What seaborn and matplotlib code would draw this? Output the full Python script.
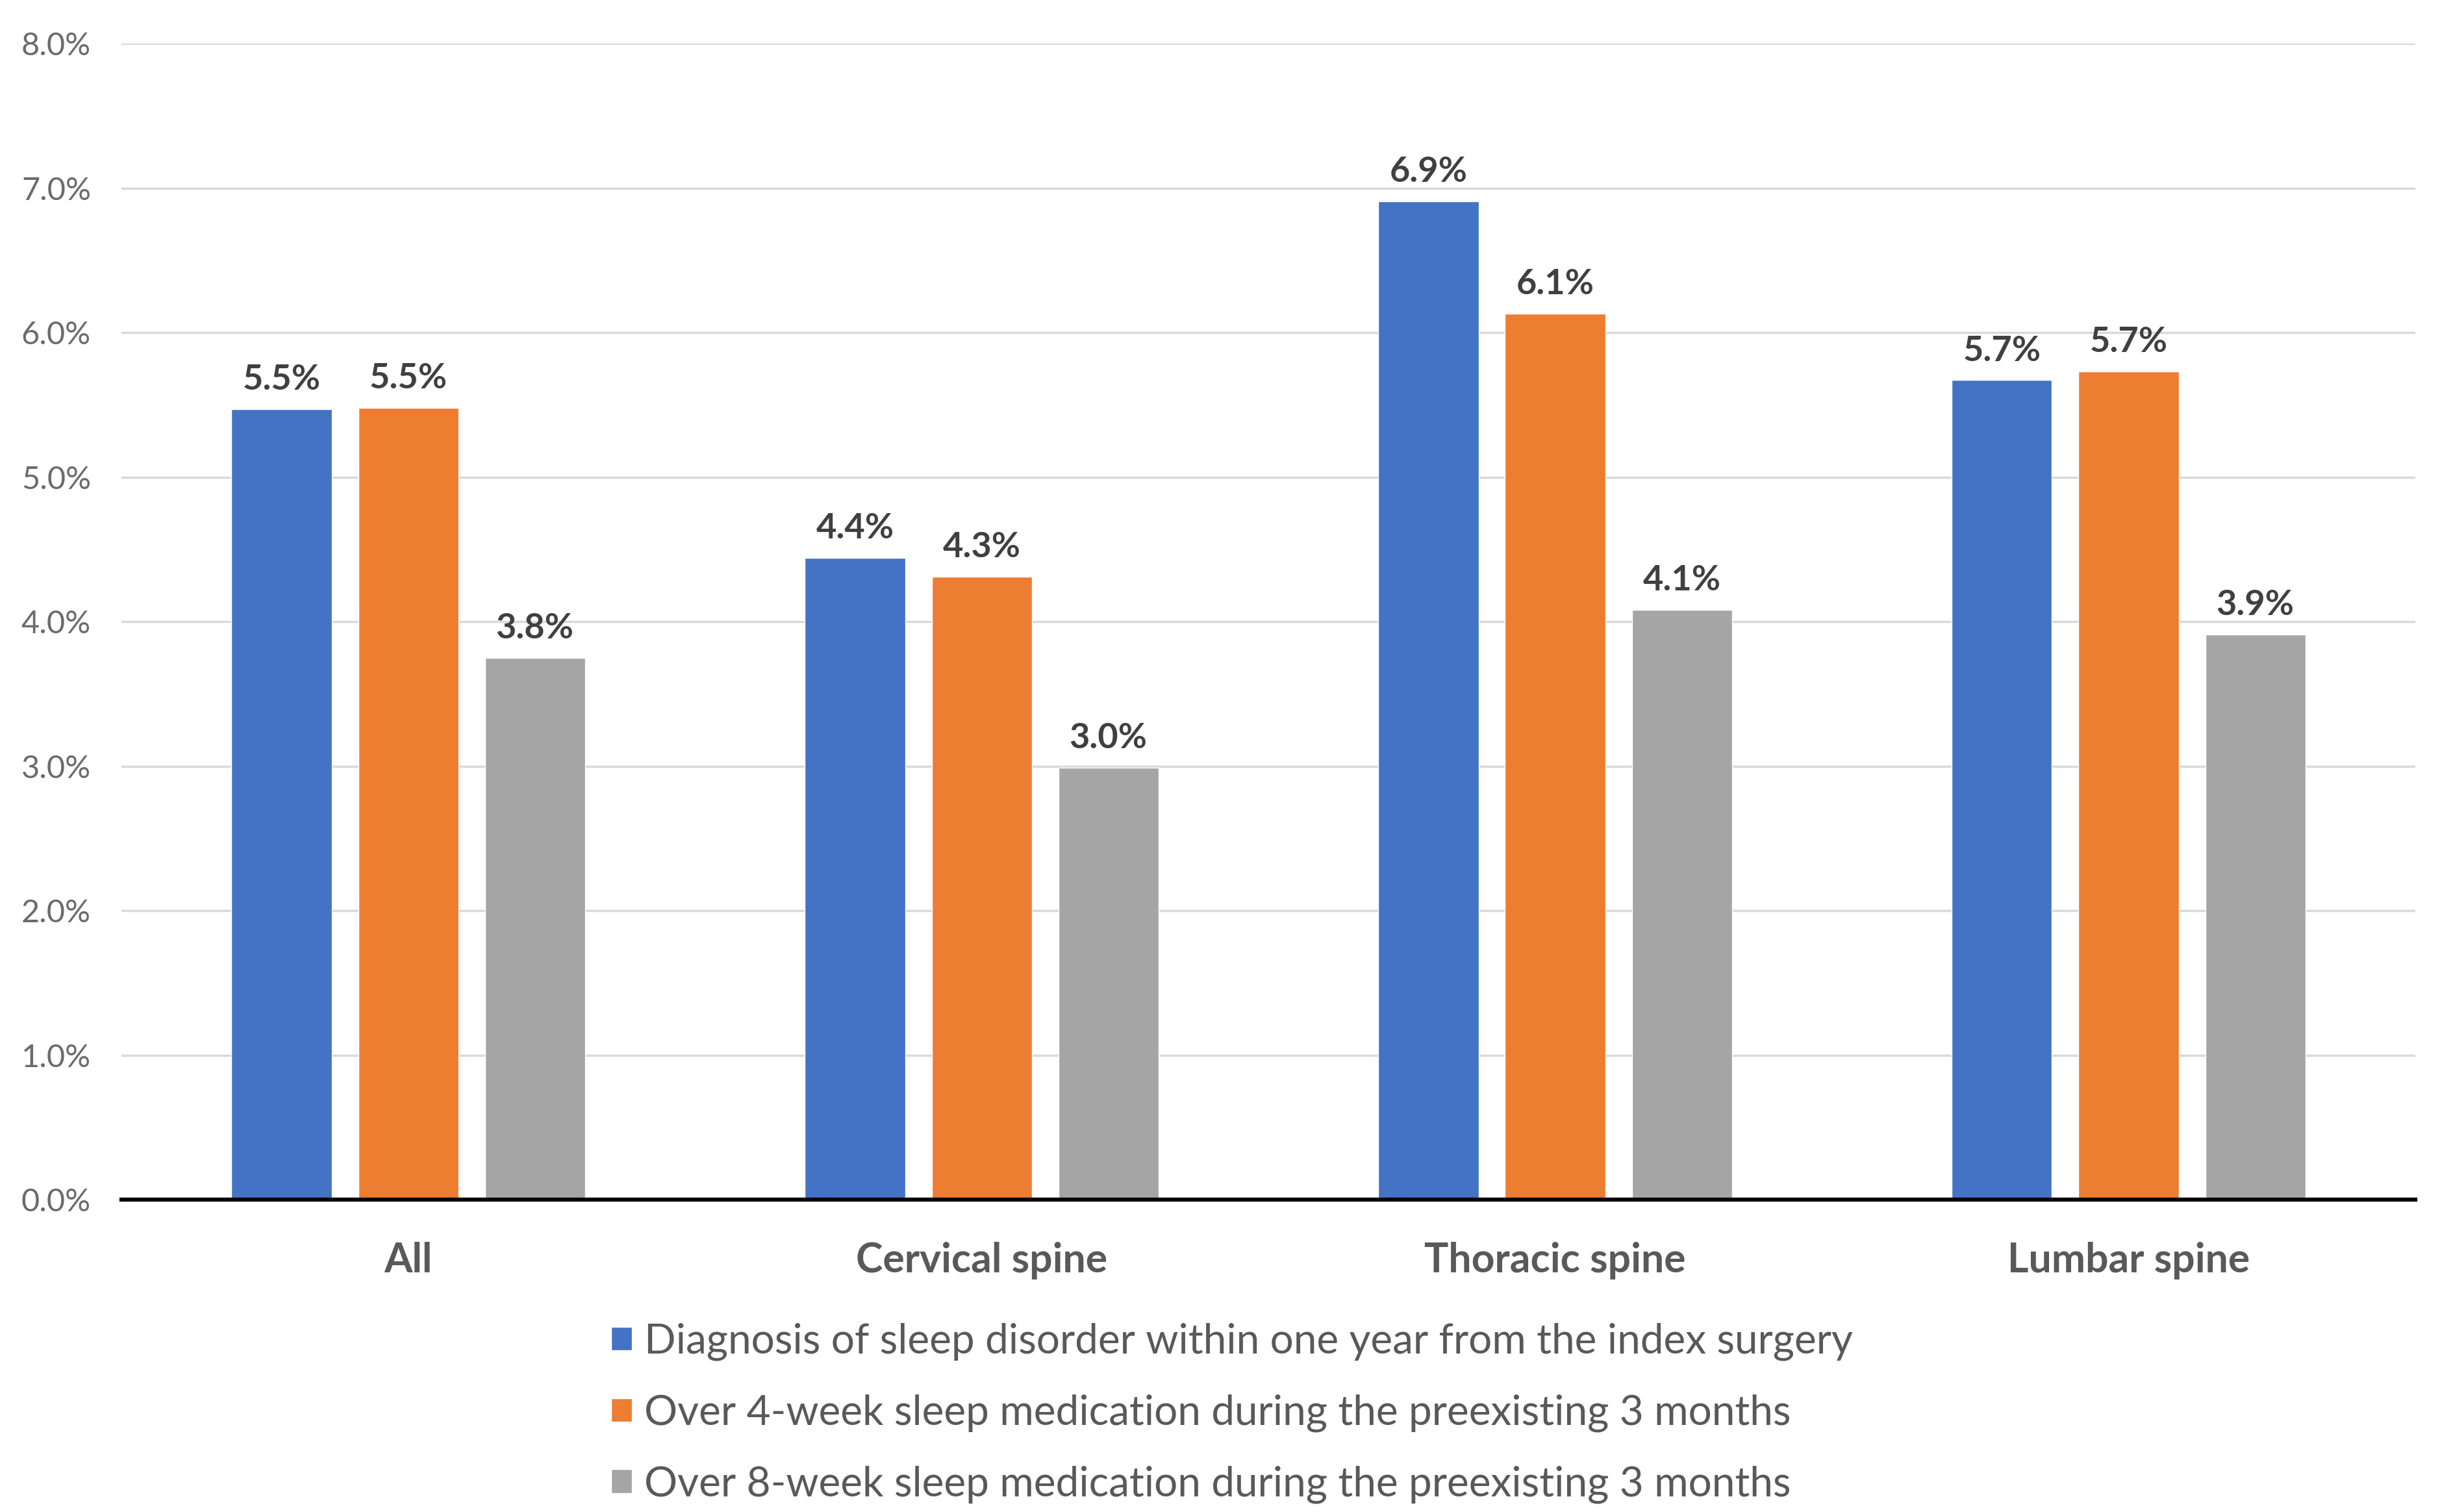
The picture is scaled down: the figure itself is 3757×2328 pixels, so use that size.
import matplotlib
matplotlib.use("Agg")
import matplotlib.pyplot as plt
import seaborn as sns
import pandas as pd

# values (percent)
categories = ['All', 'Cervical spine', 'Thoracic spine', 'Lumbar spine']
series_names = [
    'Diagnosis of sleep disorder within one year from the index surgery',
    'Over 4-week sleep medication during the preexisting 3 months',
    'Over 8-week sleep medication during the preexisting 3 months',
]
diagnosis = [5.47, 4.44, 6.91, 5.67]
over_4_week = [5.48, 4.31, 6.13, 5.73]
over_8_week = [3.75, 2.99, 4.08, 3.91]
y_ticks = [0, 1, 2, 3, 4, 5, 6, 7, 8]

colors = ['#4472C4', '#ED7D31', '#A5A5A5']

rows = []
for name, vals in zip(series_names, [diagnosis, over_4_week, over_8_week]):
    for cat, v in zip(categories, vals):
        rows.append({'Category': cat, 'Series': name, 'Value': v})
df = pd.DataFrame(rows)

sns.set_style("white")
plt.rcParams['font.family'] = ['Lato', 'DejaVu Sans']

fig = plt.figure(figsize=(37.57, 23.28), dpi=100)
ax = fig.add_axes([0.0498, 0.2066, 0.9401, 0.7646])

sns.barplot(data=df, x='Category', y='Value', hue='Series', order=categories,
            hue_order=series_names, palette=colors, width=0.663, gap=0.21,
            saturation=1, ax=ax, legend=True)

for cont in ax.containers:
    ax.bar_label(cont, fmt='{:.1f}%', padding=15, fontsize=39,
                 fontweight='bold', color='#404040')

ax.set_xlim(-0.5, 3.5)
ax.set_ylim(0, 8)
ax.set_yticks(y_ticks)
ax.set_yticklabels([f'{t:.1f}%' for t in y_ticks])
ax.set_xlabel('')
ax.set_ylabel('')
ax.yaxis.grid(True, color='#d9d9d9', linewidth=2.5)
ax.set_axisbelow(True)
for s in ['top', 'right', 'left']:
    ax.spines[s].set_visible(False)
ax.spines['bottom'].set_color('black')
ax.spines['bottom'].set_linewidth(4.5)
ax.tick_params(axis='y', length=0, pad=34, labelsize=35, labelcolor='#6b6b6b')
ax.tick_params(axis='x', length=0, pad=47, labelsize=45, labelcolor='#595959')
for lab in ax.get_xticklabels():
    lab.set_fontweight('bold')

handles, labels = ax.get_legend_handles_labels()
ax.legend_.remove()
fig.legend(handles, labels, loc='upper center', bbox_to_anchor=(0.505, 0.136),
           ncol=1, frameon=False, fontsize=46, labelcolor='#595959',
           handlelength=0.5, handleheight=0.5, handletextpad=0.3,
           labelspacing=0.8, borderaxespad=0)

fig.savefig('out.png', dpi=100, facecolor='white')
